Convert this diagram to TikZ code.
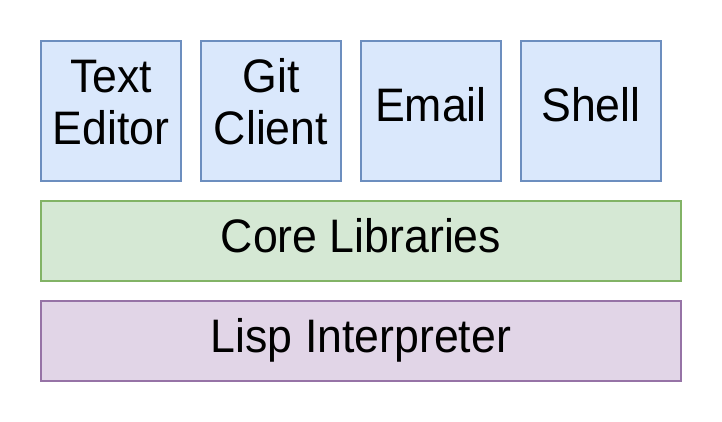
\documentclass[tikz,border=0pt]{standalone}
\usepackage{fontspec}
\setmainfont{Liberation Sans}
\newfontfamily\boxfont[FakeStretch=0.95]{Liberation Sans}
\usepackage{tikz}
\usetikzlibrary{positioning}

\definecolor{appfill}{HTML}{DAE8FC}
\definecolor{appline}{HTML}{6C8EBF}
\definecolor{corefill}{HTML}{D5E8D4}
\definecolor{coreline}{HTML}{82B366}
\definecolor{lispfill}{HTML}{E1D5E7}
\definecolor{lispline}{HTML}{9673A6}

\begin{document}
\begin{tikzpicture}[x=1pt, y=-1pt, line width=2pt,
        nodes={font=\boxfont\fontsize{47}{52.3}\selectfont, align=center, inner sep=0pt,
               text height=34pt, text depth=12pt},
        app/.style={draw=appline, fill=appfill, minimum width=140pt, minimum height=140pt},
        twolines/.style={text height=86.3pt, text depth=18.3pt},
        layer/.style={minimum width=640pt, minimum height=80pt}]
    \useasboundingbox (0,0) rectangle (722,422);

    % applications
    \node[app, twolines] (editor) at (111,111) {Text\\Editor};
    \node[app, twolines] (git) at (271,111) {Git\\Client};
    \node[app] (email) at (431,111) {Email};
    \node[app] (shell) at (591,111) {Shell};

    % layers underneath
    \node[layer, draw=coreline, fill=corefill] (core) at (361,241) {Core Libraries};
    \node[layer, draw=lispline, fill=lispfill] (lisp) at (361,341) {Lisp Interpreter};

\end{tikzpicture}
\end{document}
